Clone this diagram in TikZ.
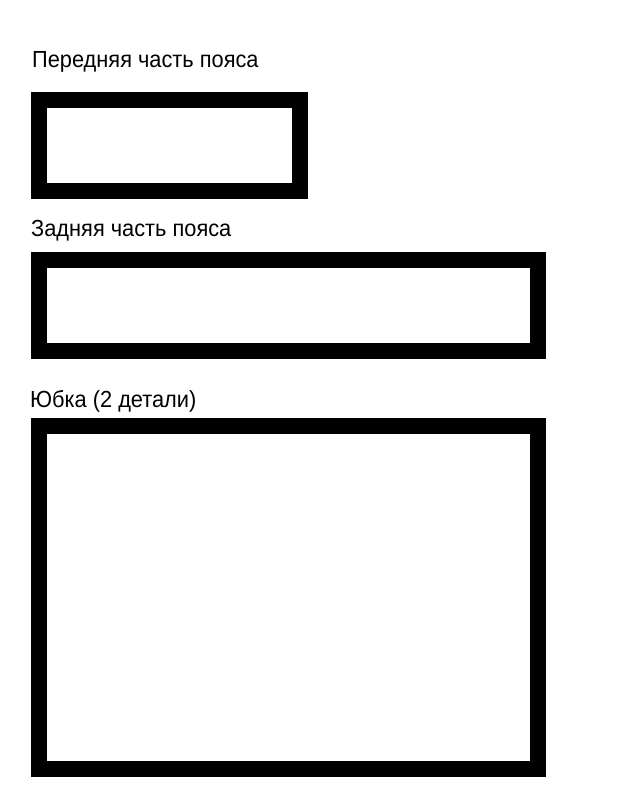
\documentclass[tikz,border=0pt]{standalone}
\usepackage{fontspec}
\newfontfamily\piecefont{Liberation Sans}[FakeStretch=0.935]
\usetikzlibrary{positioning}
\tikzset{
  piece/.style = {draw = black, line width = 16pt, fill = white, inner sep = 0pt, outer sep = 0pt},
  piecelabel/.style = {inner sep = 0pt, anchor = base west, font = \piecefont\fontsize{23.3}{28}\selectfont}
}

\begin{document}
\begin{tikzpicture} [x = 1pt, y = -1pt]
\useasboundingbox[fill = white] (0.0, 0.0) rectangle (620.0, 810.0);
\node[piece, minimum width = 260.5pt, minimum height = 91pt] (front) at (169.25, 145.5){};
\node[piece, minimum width = 499pt, minimum height = 91pt] (back) at (288.5, 305.5){};
\node[piece, minimum width = 499pt, minimum height = 343pt] (skirt) at (288.5, 597.5){};
\node[piecelabel] (frontlabel) at (32.0, 67.5){Передняя часть пояса};
\node[piecelabel] (backlabel) at (31.0, 236.7){Задняя часть пояса};
\node[piecelabel] (skirtlabel) at (30.0, 407.3){Юбка (2 детали)};
\end{tikzpicture}
\end{document}
